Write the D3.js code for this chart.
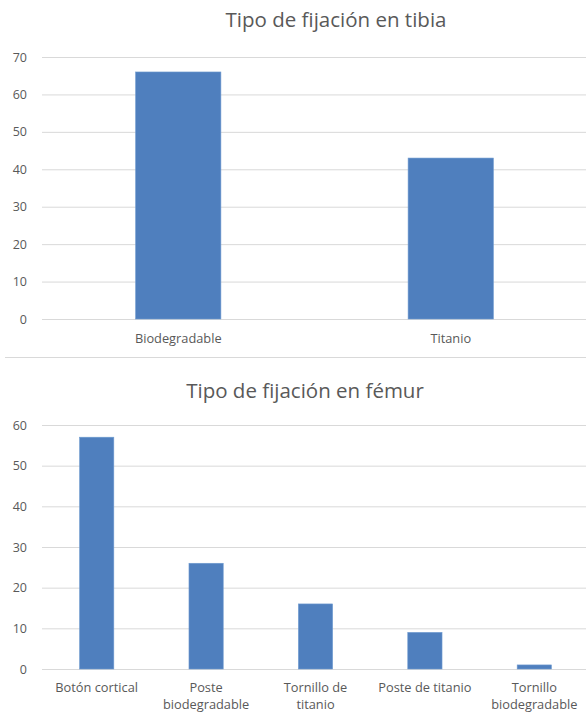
<!DOCTYPE html>
<html><head><meta charset="utf-8">
<script src="https://cdn.jsdelivr.net/npm/d3@7"></script>
<style>body{margin:0;background:#fff}svg{display:block}</style>
</head><body>
<script>
const tibiaCategories = ["Biodegradable", "Titanio"];
const tibiaValues = [66, 43];
const tibiaTicks = [0, 10, 20, 30, 40, 50, 60, 70];
const femurCategories = [["Botón cortical"], ["Poste", "biodegradable"], ["Tornillo de", "titanio"], ["Poste de titanio"], ["Tornillo", "biodegradable"]];
const femurValues = [57, 26, 16, 9, 1];
const femurTicks = [0, 10, 20, 30, 40, 50, 60];

const W = 586, H = 714;
const FONT = "'Open Sans', sans-serif";
const TXT = "#595959", GRID = "#d9d9d9", BAR = "#4f7fbe";
const svg = d3.select("body").append("svg").attr("width", W).attr("height", H);

function chart(cfg) {
  const g = svg.append("g");
  const labels = cfg.cats.map(c => Array.isArray(c) ? c.join(" ") : c);
  const x = d3.scaleBand().domain(labels).range(cfg.xr).paddingInner(0.687).paddingOuter(0.3435);
  const y = d3.scaleLinear().domain([0, d3.max(cfg.ticks)]).range(cfg.yr);
  g.append("text").attr("x", cfg.titleX).attr("y", cfg.titleY).attr("text-anchor", "middle")
    .attr("font-family", FONT).attr("font-size", 20.5).attr("fill", TXT).text(cfg.title);
  const ya = d3.axisLeft(y).tickValues(cfg.ticks).tickSize(-(cfg.xr[1] - cfg.xr[0])).tickPadding(15);
  const ag = g.append("g").attr("transform", `translate(${cfg.xr[0]},0)`).call(ya);
  ag.select(".domain").remove();
  ag.selectAll("line").attr("stroke", GRID).attr("stroke-width", 1);
  ag.selectAll("text").attr("font-family", FONT).attr("font-size", 12.5).attr("fill", TXT);
  g.selectAll("rect.bar").data(cfg.vals).join("rect").attr("class", "bar")
    .attr("x", (d, i) => x(labels[i])).attr("width", x.bandwidth())
    .attr("y", d => y(d)).attr("height", d => y(0) - y(d))
    .attr("fill", BAR).attr("stroke", "#6f9bd0").attr("stroke-width", 0.6);
  cfg.cats.forEach((c, i) => {
    const lines = Array.isArray(c) ? c : [c];
    lines.forEach((ln, j) => g.append("text").attr("text-anchor", "middle").attr("font-family", FONT)
      .attr("font-size", 12.8).attr("fill", TXT)
      .attr("x", x(labels[i]) + x.bandwidth() / 2)
      .attr("y", cfg.labY + j * 17).text(ln));
  });
}

chart({cats: tibiaCategories, vals: tibiaValues, ticks: tibiaTicks, xr: [42, 587], yr: [319, 57],
  title: "Tipo de fijación en tibia", titleX: 336, titleY: 27, labY: 343});
svg.append("line").attr("x1", 5).attr("x2", W).attr("y1", 357.5).attr("y2", 357.5).attr("stroke", GRID);
chart({cats: femurCategories, vals: femurValues, ticks: femurTicks, xr: [42, 589], yr: [669, 425],
  title: "Tipo de fijación en fémur", titleX: 305, titleY: 398, labY: 692});
</script>
</body></html>
